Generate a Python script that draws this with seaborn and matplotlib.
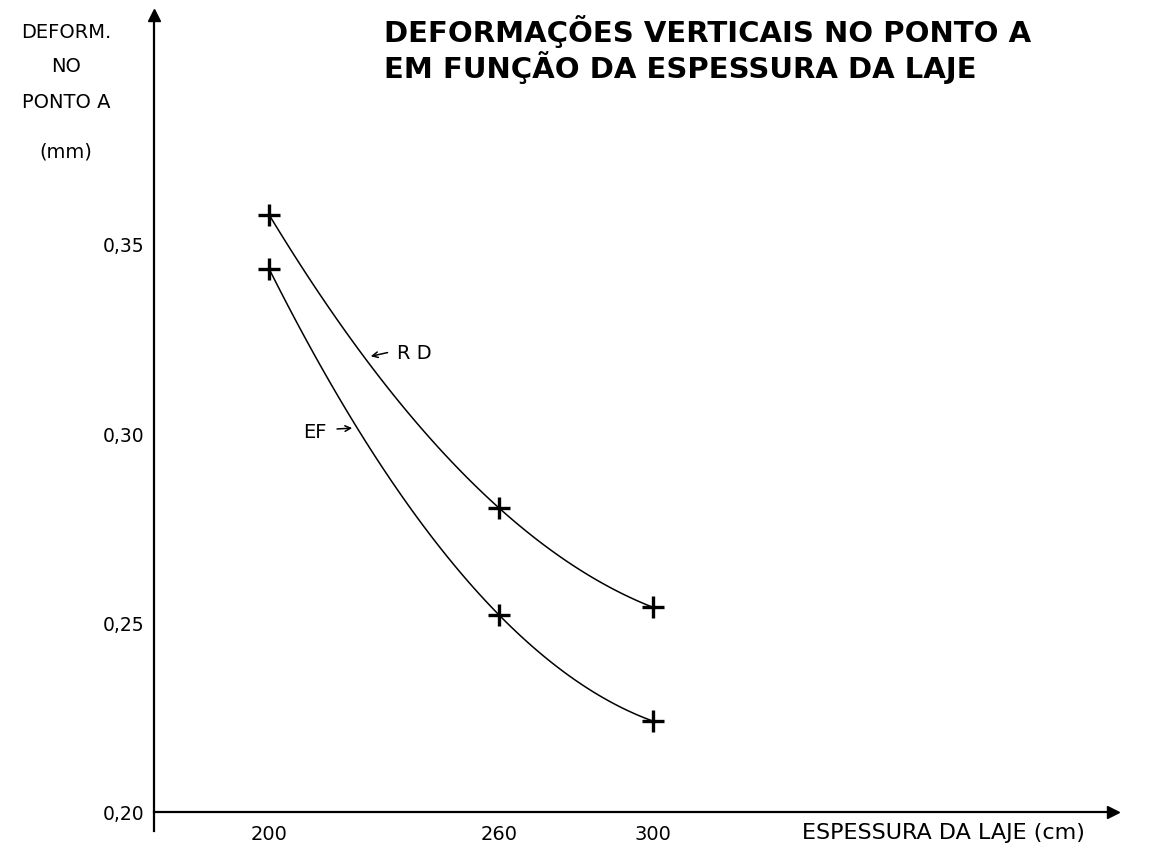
import matplotlib
matplotlib.use("Agg")
import matplotlib.pyplot as plt
import seaborn as sns
from matplotlib.ticker import FixedLocator

# slab thickness (cm)
thickness = [200, 260, 300]
# vertical deformation at point A (mm)
rd_values = [0.358, 0.2804, 0.2542]
ef_values = [0.3437, 0.2521, 0.2241]

x_major = [200, 260, 300]
x_major_labels = ["200", "260", "300"]
x_minor = [180, 190, 210, 220, 230, 240, 250, 270, 280, 290]
y_major = [0.20, 0.25, 0.30, 0.35]
y_major_labels = ["0,20", "0,25", "0,30", "0,35"]
y_minor = [0.21, 0.22, 0.23, 0.24, 0.26, 0.27, 0.28, 0.29,
           0.31, 0.32, 0.33, 0.34]

sns.set_style("white")
plt.rcParams["font.family"] = ["DejaVu Sans"]
plt.rcParams["text.color"] = "black"
plt.rcParams["xtick.color"] = "black"
plt.rcParams["ytick.color"] = "black"

fig = plt.figure(figsize=(11.58, 8.49), dpi=100)
ax = fig.add_axes([0.133, 0.0212, 0.828, 0.961])

# smooth curves through the three points, drawn by seaborn's own fit
for vals in (rd_values, ef_values):
    sns.regplot(x=thickness, y=vals, order=2, ci=None, marker="+",
                color="black", truncate=True, ax=ax,
                scatter_kws={"s": 240, "linewidths": 2.4, "alpha": 1},
                line_kws={"lw": 1.1})

ax.set_xlim(170, 420)
ax.set_ylim(0.195, 0.4108)
ax.set_xlabel("")
ax.set_ylabel("")

sns.despine(ax=ax)
ax.spines["bottom"].set_position(("data", 0.20))
for s in ("left", "bottom"):
    ax.spines[s].set_linewidth(1.6)
    ax.spines[s].set_color("black")

ax.xaxis.set_major_locator(FixedLocator(x_major))
ax.set_xticklabels(x_major_labels)
ax.xaxis.set_minor_locator(FixedLocator(x_minor))
ax.yaxis.set_major_locator(FixedLocator(y_major))
ax.set_yticklabels(y_major_labels)
ax.yaxis.set_minor_locator(FixedLocator(y_minor))
ax.tick_params(which="both", direction="in", length=6, width=1.3,
               colors="black")
ax.tick_params(axis="x", labelsize=14, pad=9)
ax.tick_params(axis="y", labelsize=13.5, pad=7)

# axis arrows
ax.plot(1, 0.20, marker=">", ms=9, color="black",
        transform=ax.get_yaxis_transform(), clip_on=False)
ax.plot(170, 1, marker="^", ms=9, color="black",
        transform=ax.get_xaxis_transform(), clip_on=False)

# curve labels
ax.annotate("", xy=(225.8, 0.3204), xytext=(231.6, 0.3217),
            arrowprops=dict(arrowstyle="->", lw=1.1, color="black"))
ax.text(233.4, 0.3212, "R D", fontsize=14, va="center", ha="left")
ax.annotate("", xy=(222.4, 0.3016), xytext=(217.0, 0.3013),
            arrowprops=dict(arrowstyle="->", lw=1.1, color="black"))
ax.text(215.1, 0.3005, "EF", fontsize=14, va="center", ha="right")

# titles and axis captions
fig.text(0.332, 1 - 31 / 849, "DEFORMAÇÕES VERTICAIS NO PONTO A",
         fontsize=21, fontweight="bold", va="center", ha="left")
fig.text(0.332, 1 - 67 / 849, "EM FUNÇÃO DA ESPESSURA DA LAJE",
         fontsize=21, fontweight="bold", va="center", ha="left")

for txt, ypix in (("DEFORM.", 32), ("NO", 67), ("PONTO A", 102), ("(mm)", 152)):
    fig.text(66 / 1158, 1 - ypix / 849, txt, fontsize=14,
             ha="center", va="center")

fig.text(802 / 1158, 1 - 833 / 849, "ESPESSURA DA LAJE (cm)", fontsize=16,
         ha="left", va="center")

fig.savefig("out.png", dpi=100)
